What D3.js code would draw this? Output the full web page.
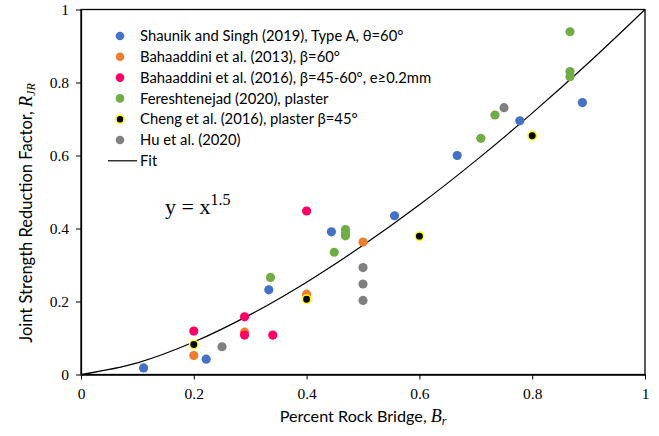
<!DOCTYPE html>
<html>
<head>
<meta charset="utf-8">
<script src="https://cdn.jsdelivr.net/npm/d3@7"></script>
<style>
  body { margin: 0; background: #fff; }
  svg { display: block; }
</style>
</head>
<body>
<svg id="chart"></svg>
<script>
// series names (legend order)
const seriesNames = [
  "Shaunik and Singh (2019), Type A, θ=60°",
  "Bahaaddini et al. (2013), β=60°",
  "Bahaaddini et al. (2016), β=45-60°, e≥0.2mm",
  "Fereshtenejad (2020), plaster",
  "Cheng et al. (2016), plaster β=45°",
  "Hu et al. (2020)"
];

// data
const shaunikX = [0.111, 0.222, 0.333, 0.444, 0.556, 0.667, 0.778, 0.889];
const shaunikY = [0.018, 0.042, 0.232, 0.391, 0.435, 0.600, 0.695, 0.745];

const bahaa2013X = [0.2, 0.29, 0.4, 0.5];
const bahaa2013Y = [0.052, 0.116, 0.220, 0.363];

const bahaa2016X = [0.2, 0.29, 0.29, 0.34, 0.4];
const bahaa2016Y = [0.119, 0.158, 0.108, 0.108, 0.448];

const fereshX = [0.336, 0.449, 0.469, 0.469, 0.469, 0.709, 0.734, 0.867, 0.867, 0.867];
const fereshY = [0.266, 0.335, 0.397, 0.388, 0.380, 0.647, 0.711, 0.939, 0.830, 0.816];

const chengX = [0.2, 0.4, 0.6, 0.8];
const chengY = [0.082, 0.206, 0.379, 0.654];

const huX = [0.25, 0.5, 0.5, 0.5, 0.75];
const huY = [0.076, 0.293, 0.248, 0.203, 0.731];

// fit curve y = x^1.5
const fitX = [0, 0.1, 0.2, 0.3, 0.4, 0.5, 0.6, 0.7, 0.8, 0.9, 1];
const fitY = [0, 0.032, 0.089, 0.164, 0.253, 0.354, 0.465, 0.586, 0.716, 0.854, 1];

const xTicks = [0, 0.2, 0.4, 0.6, 0.8, 1];
const yTicks = [0, 0.2, 0.4, 0.6, 0.8, 1];

const fills = ["#4472C4", "#ED7D31", "#FF0066", "#70AD47", "#000000", "#808080"];
const strokes = ["none", "none", "none", "none", "#FFFF00", "none"];

const seriesX = [shaunikX, bahaa2013X, bahaa2016X, fereshX, chengX, huX];
const seriesY = [shaunikY, bahaa2013Y, bahaa2016Y, fereshY, chengY, huY];

const width = 659;
const height = 436;
const marginLeft = 81;
const marginRight = 14;
const marginTop = 9.5;
const marginBottom = 61.5;

const x = d3.scaleLinear().domain([0, 1]).range([marginLeft, width - marginRight]);
const y = d3.scaleLinear().domain([0, 1]).range([height - marginBottom, marginTop]);

const svg = d3.select("#chart")
  .attr("width", width)
  .attr("height", height)
  .attr("viewBox", [0, 0, width, height]);

const serif = "'Liberation Serif', 'DejaVu Serif', serif";
const sans = "Lato, 'Open Sans', sans-serif";

// frame
svg.append("rect")
  .attr("x", x(0)).attr("y", y(1))
  .attr("width", x(1) - x(0)).attr("height", y(0) - y(1))
  .attr("fill", "none").attr("stroke", "#000").attr("stroke-width", 1.3);

// x axis
svg.append("g")
  .attr("transform", `translate(0,${y(0)})`)
  .call(d3.axisBottom(x).tickValues(xTicks).tickFormat(d3.format("~g")).tickSize(5).tickSizeOuter(0))
  .call(g => g.select(".domain").attr("stroke-width", 1.3))
  .call(g => g.selectAll(".tick text").attr("dy", "1.05em")
    .attr("font-family", serif).attr("font-size", 15.5).attr("fill", "#000"));

// y axis
svg.append("g")
  .attr("transform", `translate(${x(0)},0)`)
  .call(d3.axisLeft(y).tickValues(yTicks).tickFormat(d3.format("~g")).tickSize(5).tickSizeOuter(0).tickPadding(7))
  .call(g => g.select(".domain").attr("stroke-width", 1.3))
  .call(g => g.selectAll(".tick text")
    .attr("font-family", serif).attr("font-size", 15.5).attr("fill", "#000"));

// fit line
const line = d3.line()
  .x((d, i) => x(fitX[i]))
  .y(d => y(d))
  .curve(d3.curveMonotoneX);

svg.append("path")
  .attr("fill", "none")
  .attr("stroke", "#000")
  .attr("stroke-width", 1.2)
  .attr("d", line(fitY));

// points
seriesX.forEach((xs, s) => {
  svg.append("g")
    .selectAll("circle")
    .data(xs)
    .join("circle")
      .attr("cx", d => x(d))
      .attr("cy", (d, i) => y(seriesY[s][i]))
      .attr("r", s === 4 ? 4.2 : 4.6)
      .attr("fill", fills[s])
      .attr("stroke", strokes[s])
      .attr("stroke-width", 1.5);
});

// legend
const legend = svg.append("g").attr("font-family", sans).attr("font-size", 14.8);
seriesNames.forEach((name, i) => {
  const ly = 36 + i * 20.8;
  legend.append("circle")
    .attr("cx", 120).attr("cy", ly)
    .attr("r", i === 4 ? 4 : 4.3)
    .attr("fill", fills[i]).attr("stroke", strokes[i]).attr("stroke-width", 1.5);
  legend.append("text")
    .attr("x", 140).attr("y", ly).attr("dy", "0.35em")
    .text(name);
});
const fitLy = 36 + 6 * 20.8;
legend.append("line")
  .attr("x1", 108).attr("x2", 137).attr("y1", fitLy).attr("y2", fitLy)
  .attr("stroke", "#000").attr("stroke-width", 1.2);
legend.append("text")
  .attr("x", 140).attr("y", fitLy).attr("dy", "0.35em")
  .text("Fit");

// equation
const eq = svg.append("text")
  .attr("x", 165).attr("y", 214)
  .attr("font-family", serif).attr("font-size", 22);
eq.append("tspan").text("y = x");
eq.append("tspan").attr("dy", -9).attr("font-size", 16).text("1.5");

// axis titles
const xt = svg.append("text")
  .attr("x", 363).attr("y", 422)
  .attr("text-anchor", "middle")
  .attr("font-family", sans).attr("font-size", 16.2);
xt.append("tspan").text("Percent Rock Bridge, ");
xt.append("tspan").attr("font-family", serif).attr("font-style", "italic").attr("font-size", 18).text("B");
xt.append("tspan").attr("font-family", serif).attr("font-style", "italic").attr("font-size", 12).attr("dy", 3).text("r");

const yt = svg.append("text")
  .attr("transform", `translate(32,213) rotate(-90)`)
  .attr("text-anchor", "middle")
  .attr("font-family", sans).attr("font-size", 16.5);
yt.append("tspan").text("Joint Strength Reduction Factor, ");
yt.append("tspan").attr("font-family", serif).attr("font-style", "italic").attr("font-size", 18).text("R");
yt.append("tspan").attr("font-family", serif).attr("font-style", "italic").attr("font-size", 12).attr("dy", 3).text("JR");
</script>
</body>
</html>
